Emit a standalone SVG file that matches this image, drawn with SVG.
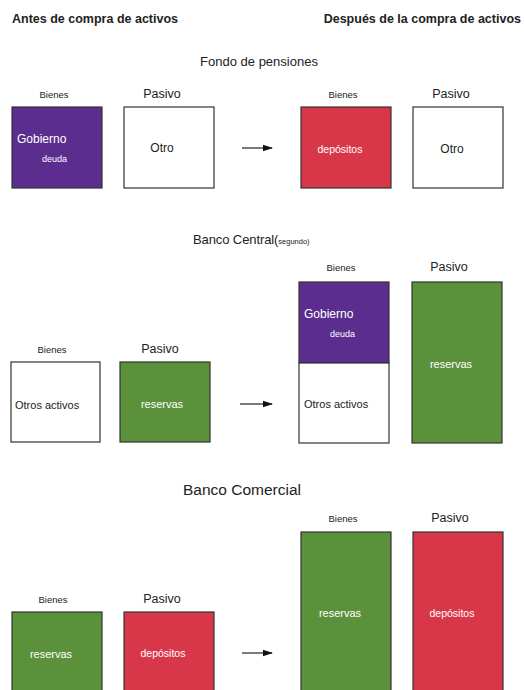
<svg xmlns="http://www.w3.org/2000/svg" width="524" height="690" viewBox="0 0 524 690">
<defs>
<marker id="ah" markerWidth="10" markerHeight="8" refX="9" refY="4" orient="auto" markerUnits="userSpaceOnUse">
<path d="M0,0.8 L10,4 L0,7.2 Z" fill="#111"/>
</marker>
</defs>
<style>
text{font-family:"Liberation Sans",Arial,sans-serif;fill:#222}
.hd{font-size:12.5px;font-weight:bold}
.ti{font-size:13px}
.bi{font-size:9.5px;text-anchor:middle}
.pa{font-size:12.5px;text-anchor:middle}
.box{stroke:#333;stroke-width:1.2}
.w{fill:#fff}
.pu{fill:#5b2d8e}
.re{fill:#d8374a}
.gr{fill:#5b913b}
.lt{fill:#fff}
.lb{font-size:12px}
.sm{font-size:9px}
.dp{font-size:10.5px;text-anchor:middle}
.rs{font-size:11px;text-anchor:middle}
.oa{font-size:11px}
.arr{stroke:#222;stroke-width:1.2;fill:none}
</style>
<rect width="524" height="690" fill="#fff"/>
<text class="hd" x="12" y="23">Antes de compra de activos</text>
<text class="hd" x="521" y="23" text-anchor="end">Después de la compra de activos</text>

<text class="ti" x="259" y="66" text-anchor="middle">Fondo de pensiones</text>
<g id="fp-before-bienes">
<text class="bi" x="54" y="98">Bienes</text>
<rect class="box pu" x="12" y="107" width="90" height="81"/>
<text class="lb lt" x="17" y="143">Gobierno</text>
<text class="sm lt" x="42" y="162">deuda</text>
</g>
<g id="fp-before-pasivo">
<text class="pa" x="162" y="98">Pasivo</text>
<rect class="box w" x="124" y="107" width="90" height="81"/>
<text class="lb" x="162" y="152" text-anchor="middle">Otro</text>
</g>
<g id="fp-after-bienes">
<text class="bi" x="343" y="98">Bienes</text>
<rect class="box re" x="301" y="107" width="90" height="81"/>
<text class="dp lt" x="340" y="153">depósitos</text>
</g>
<g id="fp-after-pasivo">
<text class="pa" x="451" y="98">Pasivo</text>
<rect class="box w" x="413" y="107" width="90" height="81"/>
<text class="lb" x="452" y="153" text-anchor="middle">Otro</text>
</g>

<text x="193" y="244" font-size="13" letter-spacing="-0.1">Banco Central(<tspan font-size="7.5" letter-spacing="0">segundo)</tspan></text>
<g id="bc-before-bienes">
<text class="bi" x="52" y="353">Bienes</text>
<rect class="box w" x="11" y="362" width="89" height="80"/>
<text class="oa" x="15" y="409">Otros activos</text>
</g>
<g id="bc-before-pasivo">
<text class="pa" x="160" y="353">Pasivo</text>
<rect class="box gr" x="120" y="362" width="90" height="80"/>
<text class="rs lt" x="162" y="408">reservas</text>
</g>
<g id="bc-after-bienes">
<text class="bi" x="341" y="271">Bienes</text>
<rect class="box pu" x="299" y="282" width="90" height="81"/>
<rect class="box w" x="299" y="363" width="90" height="80"/>
<text class="lb lt" x="304" y="318">Gobierno</text>
<text class="sm lt" x="330" y="337">deuda</text>
<text class="oa" x="304" y="408">Otros activos</text>
</g>
<g id="bc-after-pasivo">
<text class="pa" x="449" y="271">Pasivo</text>
<rect class="box gr" x="412" y="282" width="90" height="161"/>
<text class="rs lt" x="451" y="368">reservas</text>
</g>

<text x="183" y="495" font-size="15.5">Banco Comercial</text>
<g id="cb-before-bienes">
<text class="bi" x="53" y="603">Bienes</text>
<rect class="box gr" x="12" y="612" width="90" height="90"/>
<text class="rs lt" x="51" y="658">reservas</text>
</g>
<g id="cb-before-pasivo">
<text class="pa" x="162" y="603">Pasivo</text>
<rect class="box re" x="124" y="612" width="90" height="90"/>
<text class="dp lt" x="163" y="657">depósitos</text>
</g>
<g id="cb-after-bienes">
<text class="bi" x="343" y="522">Bienes</text>
<rect class="box gr" x="301" y="532" width="90" height="170"/>
<text class="rs lt" x="340" y="617">reservas</text>
</g>
<g id="cb-after-pasivo">
<text class="pa" x="450" y="522">Pasivo</text>
<rect class="box re" x="413" y="532" width="90" height="170"/>
<text class="dp lt" x="452" y="617">depósitos</text>
</g>

<g id="connectors">
<line class="arr" x1="242" y1="148" x2="272" y2="148" marker-end="url(#ah)"/>
<line class="arr" x1="240" y1="404" x2="272" y2="404" marker-end="url(#ah)"/>
<line class="arr" x1="242" y1="653" x2="272" y2="653" marker-end="url(#ah)"/>
</g>
</svg>
